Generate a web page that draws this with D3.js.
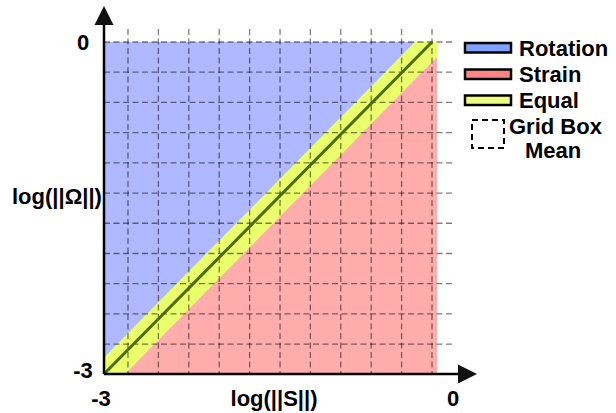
<!DOCTYPE html>
<html>
<head>
<meta charset="utf-8">
<script src="https://cdn.jsdelivr.net/npm/d3@7"></script>
<style>
    body { margin: 0; background: #fff; }
    text { font-family: "Liberation Sans", Arial, sans-serif; font-weight: bold; fill: #000; }
</style>
</head>
<body>
<svg id="chart" width="616" height="413"></svg>
<script>
// Domain of both axes (log units)
const xDomain = [-3, 0];
const yDomain = [-3, 0];

// Equal band (yellow) polygon
const bandX = [-3, -3, -0.2, 0, 0, -2.81];
const bandY = [-3, -2.85, 0, 0, -0.135, -3];

// Equal line
const lineX = [-3, -0.045];
const lineY = [-3, 0];

// Dashed grid box positions
const gridX = [-2.784, -2.51, -2.236, -1.962, -1.688, -1.414, -1.141, -0.867, -0.593, -0.319, -0.045];
const gridY = [0, -0.273, -0.546, -0.819, -1.092, -1.365, -1.638, -1.911, -2.184, -2.457, -2.73];

const xTicks = ["-3", "0"];
const yTicks = ["-3", "0"];

const legendItems = ["Rotation", "Strain", "Equal"];
const legendColors = ["#7fa2ff", "#ff8585", "#eeff80"];

const colors = {
    rotation: "#b0b8ff",
    strain:   "#ffacac",
    equal:    "#e9ff6c",
    line:     "#4d6b00"
};

const svg = d3.select("#chart");

const x = d3.scaleLinear().domain(xDomain).range([104, 437]);
const y = d3.scaleLinear().domain(yDomain).range([374, 42]);

const toPts = (xs, ys) => xs.map((v, i) => [x(v), y(ys[i])]);
const poly = d3.line();

// Rotation background, strain lower triangle
svg.append("rect")
    .attr("x", x(xDomain[0])).attr("y", y(yDomain[1]))
    .attr("width", x(xDomain[1]) - x(xDomain[0]))
    .attr("height", y(yDomain[0]) - y(yDomain[1]))
    .attr("fill", colors.rotation);

svg.append("path")
    .attr("d", poly(toPts([-3, 0, 0], [-3, -3, 0])) + "Z")
    .attr("fill", colors.strain);

// Equal band
svg.append("path")
    .attr("d", poly(toPts(bandX, bandY)) + "Z")
    .attr("fill", colors.equal);

// Grid boxes
const grid = svg.append("g")
    .attr("stroke", "rgba(0,0,0,0.5)")
    .attr("stroke-width", 1.3)
    .attr("stroke-dasharray", "6,3.5");

grid.selectAll("line.v")
    .data(gridX)
    .join("line")
    .attr("class", "v")
    .attr("x1", d => x(d)).attr("x2", d => x(d))
    .attr("y1", y(yDomain[1]) - 13).attr("y2", y(yDomain[0]));

grid.selectAll("line.h")
    .data(gridY)
    .join("line")
    .attr("class", "h")
    .attr("y1", d => y(d)).attr("y2", d => y(d))
    .attr("x1", x(xDomain[0])).attr("x2", x(xDomain[1]) + 16);

// Equal line
svg.append("path")
    .attr("d", poly(toPts(lineX, lineY)))
    .attr("stroke", colors.line)
    .attr("stroke-width", 3)
    .attr("fill", "none");

// Axes with arrows
const axes = svg.append("g");
axes.append("line")
    .attr("x1", x(-3)).attr("y1", y(-3))
    .attr("x2", x(-3)).attr("y2", 22)
    .attr("stroke", "#000").attr("stroke-width", 2.5);
axes.append("path")
    .attr("d", `M${x(-3)},6 L${x(-3) - 9.5},25 L${x(-3) + 9.5},25 Z`)
    .attr("fill", "#111");
axes.append("line")
    .attr("x1", x(-3)).attr("y1", y(-3))
    .attr("x2", 462).attr("y2", y(-3))
    .attr("stroke", "#000").attr("stroke-width", 2.5);
axes.append("path")
    .attr("d", `M477,${y(-3)} L458,${y(-3) - 9.5} L458,${y(-3) + 9.5} Z`)
    .attr("fill", "#111");

// Tick labels
svg.selectAll("text.xt")
    .data(xTicks)
    .join("text")
    .attr("class", "xt")
    .attr("x", d => x(+d) + (+d === 0 ? 16 : -3))
    .attr("y", 406)
    .attr("text-anchor", "middle")
    .style("font-size", "22px")
    .text(d => d);

svg.selectAll("text.yt")
    .data(yTicks)
    .join("text")
    .attr("class", "yt")
    .attr("x", 83)
    .attr("y", d => y(+d) + (+d === 0 ? 8 : 4))
    .attr("text-anchor", "middle")
    .style("font-size", "22px")
    .text(d => d);

// Axis titles
svg.append("text")
    .attr("x", 12).attr("y", 204)
    .style("font-size", "22px")
    .text("log(||Ω||)");

svg.append("text")
    .attr("x", 274).attr("y", 406)
    .attr("text-anchor", "middle")
    .style("font-size", "22px")
    .text("log(||S||)");

// Legend
const legend = svg.append("g");
const rowY = [43, 69.5, 95.5];

legend.selectAll("rect")
    .data(legendItems)
    .join("rect")
    .attr("x", 465).attr("y", (d, i) => rowY[i])
    .attr("width", 46).attr("height", 9.5)
    .attr("fill", (d, i) => legendColors[i])
    .attr("stroke", "#000").attr("stroke-width", 2.5);

legend.selectAll("text")
    .data(legendItems)
    .join("text")
    .attr("x", 519).attr("y", (d, i) => rowY[i] + 12.5)
    .style("font-size", "22px")
    .text(d => d);

legend.append("rect")
    .attr("x", 472).attr("y", 120)
    .attr("width", 32).attr("height", 28)
    .attr("fill", "none")
    .attr("stroke", "#000").attr("stroke-width", 2)
    .attr("stroke-dasharray", "6,4");

legend.append("text")
    .attr("x", 509).attr("y", 133.5)
    .style("font-size", "22px")
    .text("Grid Box");

legend.append("text")
    .attr("x", 553).attr("y", 158)
    .attr("text-anchor", "middle")
    .style("font-size", "22px")
    .text("Mean");
</script>
</body>
</html>
